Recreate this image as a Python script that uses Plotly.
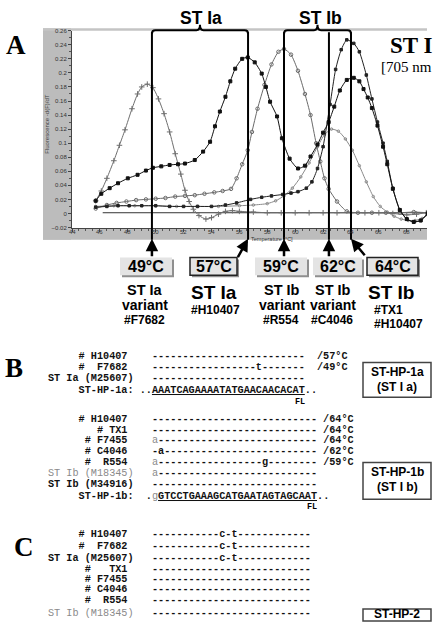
import plotly.graph_objects as go

W, H = 433, 622
def px(x): return x / W
def py(y): return 1 - y / H

# ---------------- data ----------------
t_f7682 = [45.7, 46.1, 46.5, 47.0, 47.4, 47.8, 48.3, 48.7, 49.0, 49.4, 49.8, 50.2, 50.6, 51.0, 51.4,
           51.8, 52.1, 52.4, 52.7, 53.1, 53.6, 54.0, 54.5, 55.0, 55.5, 56.0, 57.0, 58.0, 59.0, 60.0,
           61.0, 62.0, 63.0, 64.0, 65.0, 66.0, 67.0, 68.0, 68.7, 69.4]
v_f7682 = [0.018, 0.032, 0.050, 0.075, 0.097, 0.119, 0.149, 0.170, 0.180, 0.184, 0.179, 0.163, 0.142, 0.116, 0.085,
           0.056, 0.033, 0.017, 0.006, -0.003, -0.008, -0.006, -0.001, 0.003, 0.004, 0.003, 0.002, 0.001, 0.001, 0.001,
           0.001, 0.001, 0.001, 0.001, 0.001, 0.001, 0.000, -0.002, -0.001, 0.001]

t_h10407 = [45.7, 46.1, 46.7, 47.3, 48.0, 48.7, 49.3, 49.8, 50.4, 51.0, 51.6, 52.1, 52.8, 53.4, 53.9,
            54.25, 54.6, 55.0, 55.35, 55.7, 56.2, 56.6, 57.1, 57.6, 57.9, 58.2, 58.7, 59.05, 59.6, 60.2,
            60.7, 61.1, 61.6, 62.0, 62.4, 62.8, 63.2, 63.7, 64.2, 64.6, 64.9, 65.2, 65.5, 65.9, 66.3,
            66.6, 67.0, 67.5, 68.0, 68.5, 69.0, 69.5]
v_h10407 = [0.018, 0.028, 0.036, 0.043, 0.050, 0.055, 0.061, 0.065, 0.067, 0.069, 0.070, 0.071, 0.076, 0.088, 0.102,
            0.124, 0.145, 0.166, 0.188, 0.206, 0.220, 0.222, 0.215, 0.199, 0.180, 0.159, 0.138, 0.107, 0.078, 0.064,
            0.068, 0.081, 0.098, 0.115, 0.130, 0.152, 0.175, 0.190, 0.193, 0.188, 0.177, 0.165, 0.150, 0.125, 0.095,
            0.070, 0.035, 0.005, -0.008, -0.012, -0.010, 0.000]

t_r554 = [45.7, 46.5, 47.2, 47.9, 48.6, 49.3, 50.0, 50.7, 51.4, 52.1, 52.8, 53.5, 54.2, 54.8, 55.4,
          55.8, 56.2, 56.6, 56.9, 57.3, 57.8, 58.3, 58.8, 59.2, 59.7, 60.2, 60.7, 61.1, 61.5, 61.8,
          62.1, 62.4, 63.0, 63.7, 64.5, 65.5, 66.5, 67.5, 68.5, 69.5]
v_r554 = [0.007, 0.012, 0.015, 0.017, 0.019, 0.020, 0.021, 0.022, 0.024, 0.025, 0.026, 0.028, 0.030, 0.032, 0.035,
          0.050, 0.070, 0.090, 0.116, 0.149, 0.183, 0.212, 0.230, 0.234, 0.226, 0.203, 0.170, 0.140, 0.100, 0.074,
          0.050, 0.035, 0.017, 0.003, 0.001, 0.001, 0.001, 0.001, 0.002, 0.001]

t_tx1 = [45.7, 46.5, 47.3, 48.1, 49.0, 50.0, 51.0, 52.0, 53.0, 54.0, 55.0, 55.8, 56.8, 57.6, 58.3,
         59.1, 59.7, 60.2, 60.8, 61.2, 61.6, 62.0, 62.5, 62.9, 63.3, 63.7, 64.2, 64.6, 65.1, 65.5,
         65.9, 66.3, 66.6, 67.0, 67.5, 68.0, 68.5, 69.0, 69.5]
v_tx1 = [0.009, 0.010, 0.011, 0.011, 0.011, 0.011, 0.010, 0.010, 0.010, 0.010, 0.012, 0.015, 0.020, 0.023, 0.025,
         0.027, 0.029, 0.031, 0.036, 0.045, 0.064, 0.095, 0.155, 0.205, 0.233, 0.247, 0.242, 0.230, 0.197, 0.163,
         0.130, 0.100, 0.074, 0.036, 0.005, -0.008, -0.012, -0.010, 0.000]

t_c4046 = [45.7, 47.0, 48.5, 50.0, 51.5, 53.0, 54.5, 56.0, 57.0, 58.0, 58.6, 59.2, 59.8, 60.4, 61.0,
           61.6, 62.1, 62.6, 63.1, 63.6, 64.1, 64.6, 65.1, 65.6, 66.1, 66.6, 67.1, 67.6, 68.1, 68.6,
           69.1, 69.5]
v_c4046 = [0.010, 0.011, 0.011, 0.011, 0.010, 0.010, 0.010, 0.011, 0.012, 0.014, 0.018, 0.025, 0.036, 0.052, 0.072,
           0.095, 0.112, 0.120, 0.117, 0.106, 0.090, 0.068, 0.045, 0.024, 0.010, 0.002, -0.004, -0.008, -0.010, -0.010,
           -0.007, -0.002]

t_neg = [46.2, 48.0, 50.0, 52.0, 54.0, 56.0, 58.0, 60.0, 62.0, 64.0, 66.0, 68.0, 69.5]
v_neg = [0.001, 0.001, 0.001, 0.001, 0.001, 0.001, 0.001, 0.001, 0.001, 0.001, 0.001, 0.001, 0.001]

peak_temps = [49.73, 56.62, 59.2, 62.42, 64.0]
peak_labels = ['49°C', '57°C', '59°C', '62°C', '64°C']

x_ticks = list(range(44, 70, 2))

# ---------------- figure ----------------
fig = go.Figure()

def add_curve(t, v, color, width, symbol=None, msize=0, mcolor=None):
    if symbol is None:
        fig.add_trace(go.Scatter(x=t, y=v, mode='lines', line=dict(color=color, width=width),
                                 showlegend=False, hoverinfo='skip'))
        return
    fig.add_trace(go.Scatter(
        x=t, y=v, mode='lines+markers',
        line=dict(color=color, width=width, shape='spline', smoothing=0.6),
        marker=dict(symbol=symbol, size=msize, color=mcolor, line=dict(width=1, color=mcolor)),
        showlegend=False, hoverinfo='skip'))

add_curve(t_neg, v_neg, '#333333', 1)
add_curve(t_c4046, v_c4046, '#8a8a8a', 1, 'circle-open', 2.5, '#8a8a8a')
add_curve(t_r554, v_r554, '#6a6a6a', 1, 'circle-open', 3.5, '#6a6a6a')
add_curve(t_f7682, v_f7682, '#6e6e6e', 1, 'cross-thin-open', 4, '#6e6e6e')
add_curve(t_tx1, v_tx1, '#222222', 1, 'square', 2.5, '#222222')
add_curve(t_h10407, v_h10407, '#111111', 1, 'square', 3, '#111111')

X0, X1 = 72, 427
Y_TOP, Y_BOT = 28, 226.7
PPU = (X1 - X0) / (69.45 - 44)

fig.update_layout(
    width=W, height=H, margin=dict(l=0, r=0, t=0, b=0),
    paper_bgcolor='white', plot_bgcolor='white',
    xaxis=dict(domain=[px(X0), px(X1)], range=[44, 69.45], tickvals=x_ticks, showticklabels=False,
               ticks='outside', ticklen=3, tickwidth=1, tickcolor='#444',
               showgrid=False, zeroline=False, showline=True, linecolor='#444', linewidth=1,
               minor=dict(dtick=0.5, ticks='outside', ticklen=2, tickcolor='#555')),
    yaxis=dict(domain=[py(Y_BOT), py(Y_TOP)], range=[-0.02, 0.26], dtick=0.02, tick0=0,
               ticks='outside', ticklen=3, tickwidth=1, tickcolor='#444',
               tickfont=dict(size=6, color='#333', family='Liberation Sans'),
               showgrid=False, zeroline=False, showline=True, linecolor='#444', linewidth=1,
               minor=dict(dtick=0.01, ticks='outside', ticklen=2, tickcolor='#555')),
)

shapes = []
ann = []
# grey frame bars
shapes.append(dict(type='rect', xref='paper', yref='paper', x0=px(43), x1=px(71), y0=py(239), y1=py(25.5),
                   fillcolor='#bcbcbc', line=dict(width=0), layer='below'))
shapes.append(dict(type='rect', xref='paper', yref='paper', x0=px(43), x1=px(427), y0=py(239), y1=py(227.5),
                   fillcolor='#bcbcbc', line=dict(width=0), layer='below'))
shapes.append(dict(type='rect', xref='paper', yref='paper', x0=px(43), x1=px(427), y0=py(28), y1=py(25.5),
                   fillcolor='#c4c4c4', line=dict(width=0), layer='below'))

# x tick labels inside the grey bar
for t in x_ticks:
    ann.append(dict(xref='x', yref='paper', x=t, y=py(231.5), text=str(t), showarrow=False,
                    xanchor='center', yanchor='middle', borderpad=0,
                    font=dict(size=6, color='#333', family='Liberation Sans')))

# vertical peak lines
for T in peak_temps:
    shapes.append(dict(type='line', xref='x', yref='paper', x0=T, x1=T, y0=py(239), y1=py(29.5),
                       line=dict(color='black', width=2)))

# braces
def brace(a, b):
    d = 3.5 / PPU
    ym, yt, ytip = py(31), py(27.5), py(22)
    m = (a + b) / 2
    return (f"M{a},{ym} Q{a},{yt} {a+d},{yt} L{m-d},{yt} Q{m},{yt} {m},{ytip} "
            f"Q{m},{yt} {m+d},{yt} L{b-d},{yt} Q{b},{yt} {b},{ym}")

shapes.append(dict(type='path', xref='x', yref='paper', path=brace(peak_temps[0], peak_temps[1]),
                   line=dict(color='black', width=2)))
shapes.append(dict(type='path', xref='x', yref='paper', path=brace(peak_temps[2], peak_temps[4]),
                   line=dict(color='black', width=2)))

def text(x, y, s, size, family='Liberation Sans', color='black', xanchor='center', textangle=0, pad=1):
    ann.append(dict(xref='paper', yref='paper', x=px(x), y=py(y), text=s, showarrow=False,
                    xanchor=xanchor, yanchor='middle', textangle=textangle, borderpad=pad,
                    font=dict(size=size, family=family, color=color)))

text(201, 15, '<b>ST Ia</b>', 17.5)
text(320, 15, '<b>ST Ib</b>', 17.5)
text(16, 42, '<b>A</b>', 27, family='Liberation Serif')
text(14, 369, '<b>B</b>', 27, family='Liberation Serif')
text(24, 549, '<b>C</b>', 27, family='Liberation Serif')
text(389, 43, '<b>ST I</b>', 23, family='Liberation Serif', xanchor='left', pad=0)
text(380, 65, '[705 nm', 15, family='Liberation Serif', xanchor='left', pad=0)
text(47, 122, 'Fluorescence -d(F)/dT', 6, color='#444', textangle=-90)
text(272, 238, 'Temperature [°C]', 5.5, color='#333', pad=0)

# arrows
arrow_tail = [(0, 19), (-11, 20), (0, 19), (0, 19), (15, 18)]
for T, (ax, ay) in zip(peak_temps, arrow_tail):
    ann.append(dict(xref='x', yref='paper', x=T, y=py(238), text='', showarrow=True,
                    ax=ax, ay=ay, arrowhead=2, arrowsize=1, arrowwidth=2.5, arrowcolor='black',
                    standoff=0, startstandoff=0))

# temperature boxes
boxes = [(120, 172, False), (190, 237, True), (255, 307, False), (313, 362, False), (367, 418, True)]
for (x0, x1, outlined), lab in zip(boxes, peak_labels):
    shapes.append(dict(type='rect', xref='paper', yref='paper', x0=px(x0 + 2), x1=px(x1 + 2),
                       y0=py(277), y1=py(259), fillcolor='#8f8f8f', line=dict(width=0)))
    shapes.append(dict(type='rect', xref='paper', yref='paper', x0=px(x0), x1=px(x1),
                       y0=py(275), y1=py(257), fillcolor='#e4e4e4',
                       line=dict(width=1.5 if outlined else 0, color='#222')))
    text((x0 + x1) / 2, 266.5, f'<b>{lab}</b>', 16)

# labels under boxes
text(145, 290, '<b>ST Ia</b>', 14.5)
text(145, 305, '<b>variant</b>', 14)
text(144, 320, '<b>#F7682</b>', 12)
text(214, 292, '<b>ST Ia</b>', 19)
text(215, 310, '<b>#H10407</b>', 12)
text(282, 290, '<b>ST Ib</b>', 14.5)
text(282, 305, '<b>variant</b>', 14)
text(281, 320, '<b>#R554</b>', 12)
text(333, 290, '<b>ST Ib</b>', 14.5)
text(333, 305, '<b>variant</b>', 14)
text(332, 320, '<b>#C4046</b>', 12)
text(391, 292, '<b>ST Ib</b>', 19)
text(372, 310, '<b>#TX1</b>', 12, xanchor='left')
text(372, 324, '<b>#H10407</b>', 12, xanchor='left')

# sequence alignment text
NB = '\u00a0'
def mono(s):
    return s.replace(' ', NB)
def grey(s):
    return f'<span style="color:#8a8a8a;font-weight:normal">{mono(s)}</span>'

MONO = 'Liberation Mono'
MS = 10.2

def row(y, parts):
    ann.append(dict(xref='paper', yref='paper', x=px(46), y=py(y), text='<b>' + ''.join(parts) + '</b>',
                    showarrow=False, xanchor='left', yanchor='middle',
                    font=dict(size=MS, family=MONO, color='#111')))

dash = '-'
# block B1
row(357, [mono('     # H10407    '), dash * 25, mono('  /57°C')])
row(368, [mono('     #  F7682    '), dash * 17, 't', dash * 7, mono('  /49°C')])
row(379, [mono('ST Ia (M25607)   '), dash * 25])
row(391, [mono('     ST-HP-1a: ..'), '<u>AAATCAGAAAATATGAACAACACAT</u>', '..'])
text(300, 403, '<b>FL</b>', 8.5, family=MONO)
# block B2
row(421, [mono('     # H10407    '), dash * 27, mono(' /64°C')])
row(432, [mono('        # TX1    '), dash * 27, mono(' /64°C')])
row(442, [mono('      # F7455    '), grey('a'), dash * 26, mono(' /64°C')])
row(453, [mono('      # C4046    '), '-a', dash * 25, mono(' /62°C')])
row(464, [mono('      #  R554    '), grey('a'), dash * 17, 'g', dash * 8, mono(' /59°C')])
row(475, [grey('ST Ib (M18345)   '), grey('a'), dash * 26])
row(486, [mono('ST Ib (M34916)   '), dash * 27])
row(498, [mono('     ST-HP-1b:  .'), grey('g'), '<u>GTCCTGAAAGCATGAATAGTAGCAAT</u>', '..'])
text(312, 509, '<b>FL</b>', 8.5, family=MONO)
# block C
row(537, [mono('     # H10407    '), dash * 11, 'c-t', dash * 12])
row(549, [mono('     #  F7682    '), dash * 11, 'c-t', dash * 12])
row(561, [mono('ST Ia (M25607)   '), dash * 11, 'c-t', dash * 12])
row(572, [mono('      #   TX1    '), dash * 26])
row(582, [mono('      # F7455    '), dash * 26])
row(592, [mono('      # C4046    '), dash * 26])
row(603, [mono('      #  R554    '), dash * 26])
row(616, [grey('ST Ib (M18345)   '), dash * 26])

# probe boxes
for (y0, y1, l1, l2) in [(363, 398, 'ST-HP-1a', '(ST I a)'), (464, 501, 'ST-HP-1b', '(ST I b)')]:
    shapes.append(dict(type='rect', xref='paper', yref='paper', x0=px(363), x1=px(431), y0=py(y1), y1=py(y0),
                       fillcolor='white', line=dict(width=1.5, color='#444')))
    text(397, y0 + 10, f'<b>{l1}</b>', 12)
    text(397, y0 + 25, f'<b>{l2}</b>', 12)
shapes.append(dict(type='rect', xref='paper', yref='paper', x0=px(363), x1=px(431), y0=py(624), y1=py(612),
                   fillcolor='white', line=dict(width=1.5, color='#444')))
text(397, 616.5, '<b>ST-HP-2</b>', 12, pad=0)

fig.update_layout(shapes=shapes, annotations=ann)
fig.write_html('out.html', config={'displayModeBar': False})
